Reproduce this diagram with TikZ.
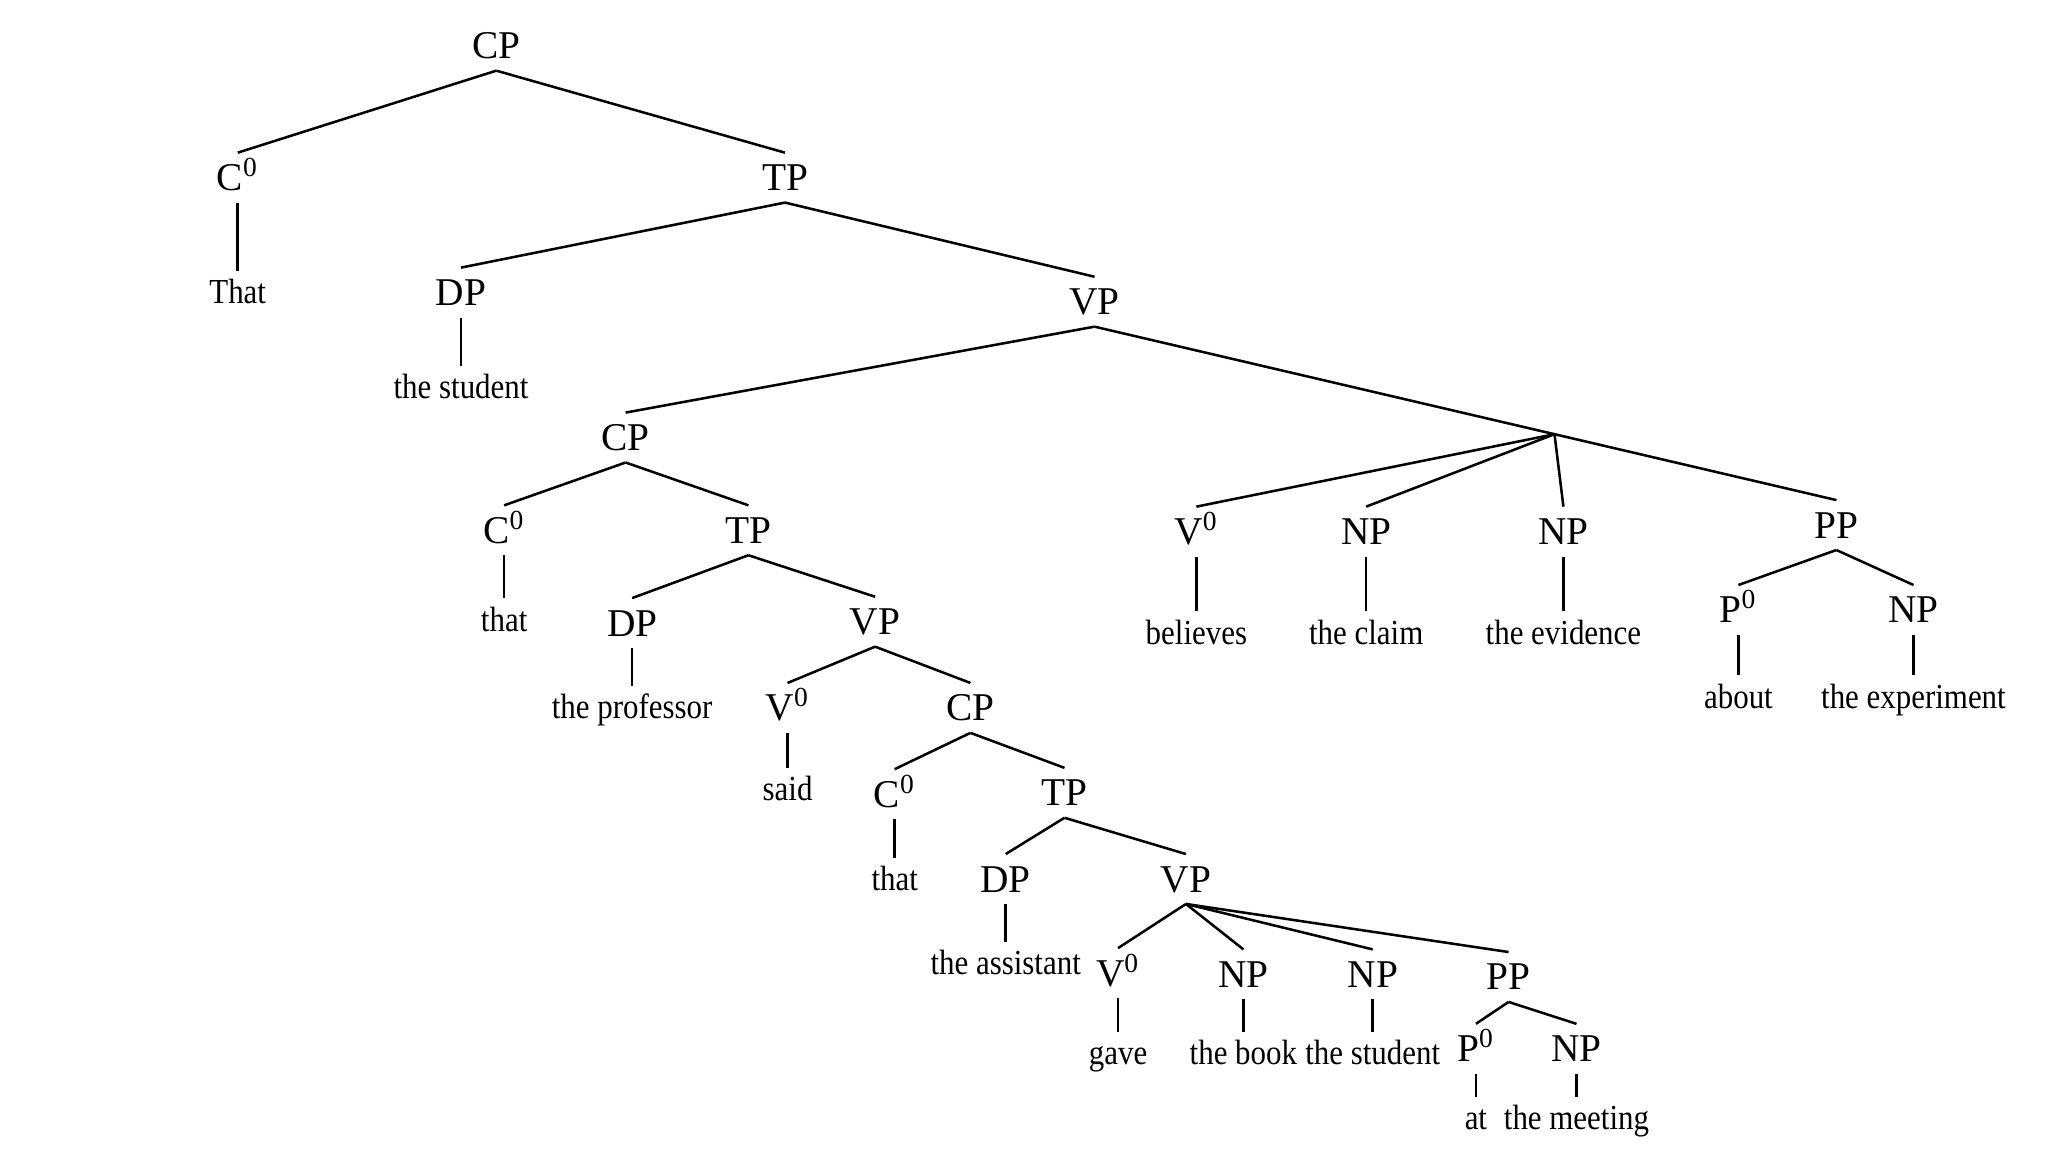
\documentclass[tikz,border=0pt]{standalone}
\usepackage{fontspec}
\setmainfont{Liberation Serif}
\newfontfamily\leaffont{Liberation Serif}[FakeStretch=0.88]
\usetikzlibrary{calc}
\begin{document}
\begin{tikzpicture}[
    x=0.01306cm,y=-0.01306cm,
    cat/.style={inner xsep=1pt,inner ysep=3.2pt,text height=7.4pt,text depth=0pt,
      font=\fontsize{11.2}{13}\selectfont},
    word/.style={inner xsep=1pt,inner ysep=2.3pt,text height=6.8pt,text depth=0pt,
      font=\leaffont\fontsize{10}{12}\selectfont},
    br/.style={draw,line width=0.72pt}
  ]
  \useasboundingbox[fill=white] (0,0) rectangle (1568,882);
  %% matrix clause
  \node[cat] (cp1) at (380,35) {CP};
  \node[cat] (c1)  at (182,136) {C\textsuperscript{0}};
  \node[cat] (tp1) at (601,136) {TP};
  \node[cat] (dp1) at (353,224) {DP};
  \node[cat] (vp1) at (838,231) {VP};
  %% first embedded clause
  \node[cat] (cp2) at (479,335) {CP};
  \node[cat] (c2)  at (386,406) {C\textsuperscript{0}};
  \node[cat] (tp2) at (573,406) {TP};
  \node[cat] (dp2) at (484,477) {DP};
  \node[cat] (vp2) at (670,476) {VP};
  \node[cat] (v2)  at (603,542) {V\textsuperscript{0}};
  %% second embedded clause
  \node[cat] (cp3) at (743,542) {CP};
  \node[cat] (c3)  at (685,608) {C\textsuperscript{0}};
  \node[cat] (tp3) at (815,607) {TP};
  \node[cat] (dp3) at (770,673) {DP};
  \node[cat] (vp3) at (908,673) {VP};
  \node[cat] (v3)  at (856,745) {V\textsuperscript{0}};
  \node[cat] (np3a) at (952,746) {NP};
  \node[cat] (np3b) at (1051,746) {NP};
  \node[cat] (pp3) at (1155,748) {PP};
  \node[cat] (p3)  at (1130,803) {P\textsuperscript{0}};
  \node[cat] (np3c) at (1207,803) {NP};
  %% matrix verb and its objects
  \node[cat] (v1)  at (916,407) {V\textsuperscript{0}};
  \node[cat] (np1a) at (1046,407) {NP};
  \node[cat] (np1b) at (1197,407) {NP};
  \node[cat] (pp1) at (1406,402) {PP};
  \node[cat] (p1)  at (1331,467) {P\textsuperscript{0}};
  \node[cat] (np1c) at (1465,467) {NP};
  \coordinate (j1) at ($(vp1.south)!0.62!(pp1.north)$);
  %% branches
  \foreach \p/\c in {cp1/c1,cp1/tp1,tp1/dp1,tp1/vp1,vp1/cp2,vp1/pp1,
      cp2/c2,cp2/tp2,tp2/dp2,tp2/vp2,vp2/v2,vp2/cp3,cp3/c3,cp3/tp3,
      tp3/dp3,tp3/vp3,vp3/v3,vp3/np3a,vp3/np3b,vp3/pp3,pp3/p3,pp3/np3c,
      pp1/p1,pp1/np1c}
    \draw[br] (\p.south) -- (\c.north);
  \foreach \c in {v1,np1a,np1b}
    \draw[br] (j1) -- (\c.north);
  %% words
  \foreach \p/\y/\t in {c1/223/That,dp1/296/the student,c2/474/that,
      dp2/541/the professor,v2/604/said,c3/673/that,dp3/737/the assistant,
      v3/806/gave,np3a/806/the book,np3b/806/the student,p3/856/at,
      np3c/856/the meeting,v1/484/believes,np1a/484/the claim,
      np1b/484/the evidence,p1/533/about,np1c/533/the experiment}
  {
    \node[word] (w-\p) at (\p |- 0,\y) {\t};
    \draw[br] (\p.south) -- (w-\p.north);
  }
\end{tikzpicture}
\end{document}
